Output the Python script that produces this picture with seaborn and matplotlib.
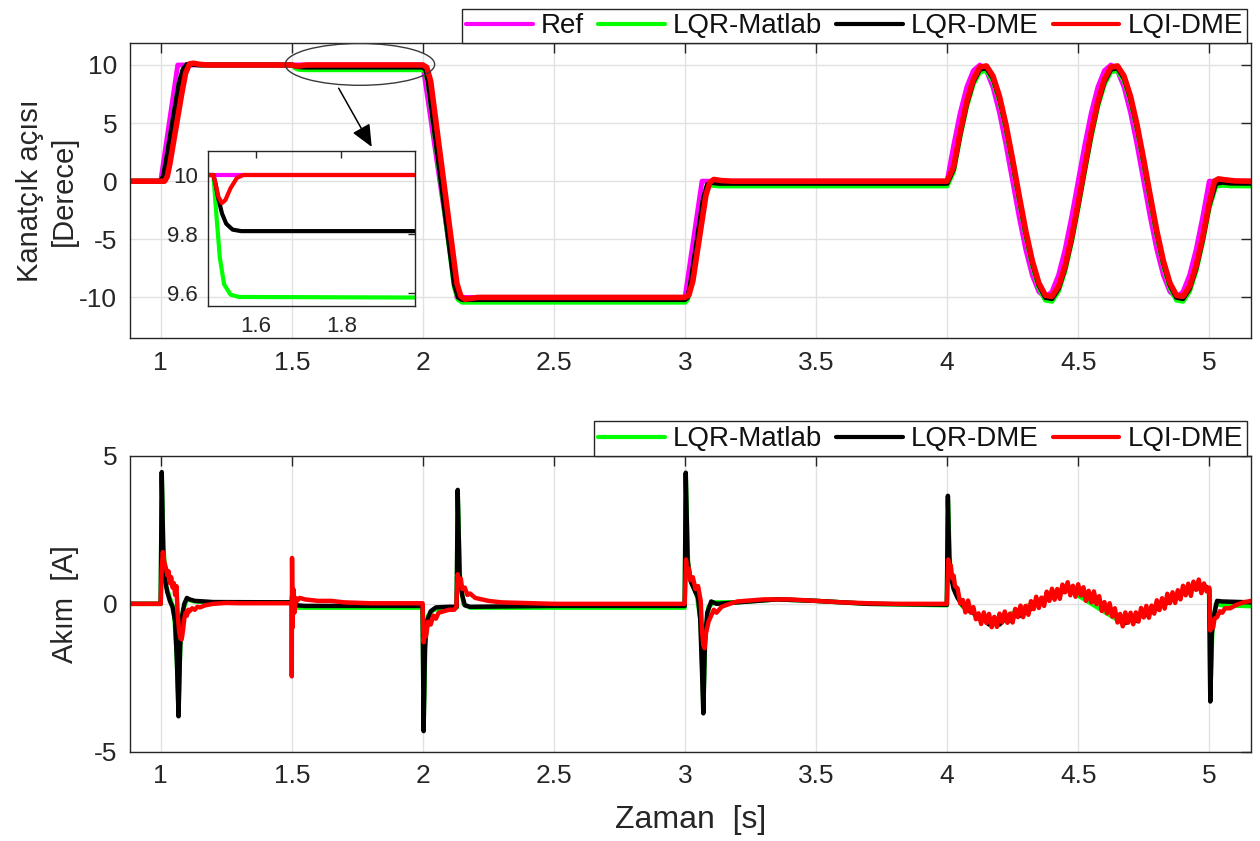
import numpy as np
import matplotlib
matplotlib.use("Agg")
import matplotlib.pyplot as plt
import seaborn as sns
from matplotlib.patches import Ellipse, ArrowStyle

# ---------------- flap angle [deg] ----------------
# reference: ramps, then two periods of a 2 Hz sine
ref_step_t = [0.88, 1.0, 1.065, 2.0, 2.13, 3.0, 3.065]
ref_step_v = [0, 0, 10, 10, -10, -10, 0]
wave_t = list(np.round(np.linspace(4.0, 5.0, 41), 3))
wave_ref = [0, 3.09, 5.88, 8.09, 9.51, 10, 9.51, 8.09, 5.88, 3.09,
            0, -3.09, -5.88, -8.09, -9.51, -10, -9.51, -8.09, -5.88, -3.09,
            0, 3.09, 5.88, 8.09, 9.51, 10, 9.51, 8.09, 5.88, 3.09,
            0, -3.09, -5.88, -8.09, -9.51, -10, -9.51, -8.09, -5.88, -3.09, 0]
ref_tail_t = [5.16]
ref_tail_v = [0]

# LQI-DME response
lqi_step_t = [0.88, 1.015, 1.025, 1.035, 1.08, 1.095, 1.11, 1.125, 1.15, 1.18,
              1.5, 1.505, 1.512, 1.52, 1.528, 1.54, 1.555, 1.57,
              2.0, 2.015, 2.03, 2.13, 2.145, 2.16, 2.18, 2.21,
              3.0, 3.015, 3.03, 3.08, 3.095, 3.11, 3.14, 3.18]
lqi_step_v = [0, 0, 0.4, 1.5, 7.5, 9.3, 10.1, 10.15, 10.05, 10.0,
              10.0, 9.97, 9.925, 9.905, 9.915, 9.955, 9.99, 10.0,
              10.0, 9.8, 8.6, -8.8, -9.9, -10.15, -10.1, -10.0,
              -10.0, -9.8, -8.6, -1.2, -0.1, 0.15, 0.05, 0.0]
lqi_wave = [0, 1.25, 4.26, 6.85, 8.76, 9.82, 9.92, 9.05, 7.29, 4.82,
            1.87, -1.25, -4.26, -6.85, -8.76, -9.82, -9.92, -9.05, -7.29, -4.82,
            -1.87, 1.25, 4.26, 6.85, 8.76, 9.82, 9.92, 9.05, 7.29, 4.82,
            1.87, -1.25, -4.26, -6.85, -8.76, -9.82, -9.92, -9.05, -7.29, -4.82, -1.87]
lqi_tail_t = [5.02, 5.035, 5.06, 5.1, 5.16]
lqi_tail_v = [0.0, 0.2, 0.12, 0.02, 0.0]

# LQR-DME response
dme_step_t = [0.88, 1.0, 1.01, 1.02, 1.07, 1.085, 1.1, 1.12, 1.15,
              1.5, 1.505, 1.51, 1.52, 1.53, 1.545, 1.565, 1.6,
              2.0, 2.01, 2.02, 2.12, 2.135, 2.15, 2.18,
              3.0, 3.01, 3.02, 3.07, 3.085, 3.1, 3.13]
dme_step_v = [0, 0, 0.4, 1.6, 8.4, 9.6, 10.05, 10.05, 10.0,
              10.0, 9.97, 9.93, 9.87, 9.835, 9.815, 9.81, 9.81,
              9.81, 9.6, 8.6, -8.9, -10.0, -10.2, -10.19,
              -10.19, -10.0, -9.0, -1.5, -0.3, -0.12, -0.19]
dme_wave = [-0.19, 1.06, 4.07, 6.66, 8.57, 9.63, 9.73, 8.86, 7.10, 4.63,
            1.68, -1.44, -4.45, -7.04, -8.95, -10.01, -10.11, -9.24, -7.48, -5.01,
            -2.06, 1.06, 4.07, 6.66, 8.57, 9.63, 9.73, 8.86, 7.10, 4.63,
            1.68, -1.44, -4.45, -7.04, -8.95, -10.01, -10.11, -9.24, -7.48, -5.01, -2.06]
dme_tail_t = [5.025, 5.05, 5.08, 5.16]
dme_tail_v = [-0.2, -0.1, -0.17, -0.19]

# LQR-Matlab response
mat_step_t = [0.88, 1.0, 1.01, 1.02, 1.07, 1.085, 1.1, 1.12, 1.15,
              1.5, 1.505, 1.515, 1.525, 1.54, 1.56,
              2.0, 2.01, 2.02, 2.12, 2.135, 2.15, 2.18,
              3.0, 3.01, 3.02, 3.07, 3.085, 3.1, 3.13]
mat_step_v = [0, 0, 0.4, 1.6, 8.4, 9.6, 10.05, 10.05, 10.0,
              10.0, 9.9, 9.72, 9.63, 9.595, 9.587,
              9.585, 9.38, 8.4, -9.1, -10.2, -10.42, -10.415,
              -10.415, -10.2, -9.2, -1.7, -0.52, -0.35, -0.415]
mat_wave = [-0.415, 0.84, 3.85, 6.44, 8.35, 9.41, 9.51, 8.64, 6.88, 4.41,
            1.46, -1.67, -4.68, -7.27, -9.18, -10.24, -10.34, -9.47, -7.71, -5.24,
            -2.29, 0.84, 3.85, 6.44, 8.35, 9.41, 9.51, 8.64, 6.88, 4.41,
            1.46, -1.67, -4.68, -7.27, -9.18, -10.24, -10.34, -9.47, -7.71, -5.24, -2.29]
mat_tail_t = [5.025, 5.05, 5.08, 5.16]
mat_tail_v = [-0.45, -0.35, -0.4, -0.415]

# ---------------- motor current [A] ----------------
cur_mat_t = [0.88, 1.0, 1.004, 1.01, 1.02, 1.035, 1.05, 1.06, 1.068, 1.076, 1.085, 1.1, 1.13, 1.2,
             1.4998, 1.503, 1.52, 1.999, 2.003, 2.01, 2.02, 2.04, 2.1, 2.129, 2.133, 2.142, 2.155,
             2.18, 2.999, 3.003, 3.012, 3.025, 3.045, 3.06, 3.07, 3.078, 3.09, 3.11, 3.2, 3.35,
             3.5, 3.7, 3.999, 4.003, 4.012, 4.03, 4.06, 4.17, 4.45, 4.67, 4.95, 4.999, 5.004,
             5.012, 5.025, 5.05, 5.16]
cur_mat_v = [0, 0, 4.3, 2.0, 0.6, 0.2, -0.2, -1.5, -3.6, -1.0, -0.2, 0.15, 0.08, 0.05,
             0.05, 0.1, -0.13, -0.13, -4.1, -1.2, -0.4, -0.2, -0.13, -0.13, 3.7, 0.8, 0.0,
             -0.13, -0.13, 4.3, 1.3, 0.7, 0.3, -0.6, -3.5, -1.0, -0.1, 0.05, 0.05, 0.15,
             0.1, 0.0, -0.05, 3.5, 1.1, 0.4, -0.1, -0.65, 0.55, -0.65, 0.6, 0.5, -3.2,
             -0.8, 0.0, -0.05, -0.08]

cur_dme_t = [0.88, 1.0, 1.004, 1.01, 1.015, 1.025, 1.035, 1.045, 1.055, 1.062, 1.068, 1.074,
             1.08, 1.09, 1.1, 1.11, 1.13, 1.2, 1.4998, 1.501, 1.505, 1.52, 1.55, 1.999,
             2.003, 2.008, 2.015, 2.03, 2.05, 2.1, 2.129, 2.133, 2.14, 2.15, 2.16, 2.18, 2.5,
             2.999, 3.003, 3.01, 3.02, 3.035, 3.05, 3.058, 3.064, 3.07, 3.076, 3.085, 3.1,
             3.12, 3.2, 3.35, 3.5, 3.7, 3.999, 4.003, 4.008, 4.015, 4.025, 4.04,
             4.06, 4.08, 4.10, 4.12, 4.14, 4.16, 4.18, 4.20, 4.22, 4.24, 4.26, 4.28, 4.30,
             4.32, 4.34, 4.36, 4.38, 4.40, 4.42, 4.44, 4.46, 4.48, 4.50, 4.52, 4.54, 4.56,
             4.58, 4.60, 4.62, 4.64, 4.66, 4.68, 4.70, 4.72, 4.74, 4.76, 4.78, 4.80, 4.82,
             4.84, 4.86, 4.88, 4.90, 4.92, 4.94, 4.96, 4.98, 5.0, 5.004, 5.01, 5.02, 5.03,
             5.05, 5.16]
cur_dme_v = [0, 0, 4.45, 1.6, 0.9, 0.4, 0.1, -0.1, -0.6, -2.0, -3.8, -1.5,
             -0.5, 0.0, 0.2, 0.15, 0.1, 0.06, 0.05, 0.25, -0.05, -0.05, -0.07, -0.07,
             -4.3, -1.5, -0.6, -0.25, -0.12, -0.1, -0.1, 3.85, 1.0, 0.3, -0.05, -0.1, -0.07,
             -0.07, 4.43, 1.5, 0.8, 0.5, 0.2, -0.5, -2.0, -3.7, -1.3, -0.3, 0.08,
             0.0, 0.05, 0.15, 0.1, 0.0, -0.03, 3.65, 1.6, 0.9, 0.5, 0.2,
             -0.05, -0.22, -0.30, -0.50, -0.52, -0.70, -0.62, -0.70, -0.52, -0.58, -0.38, -0.40, -0.22,
             -0.18, 0.02, 0.02, 0.22, 0.22, 0.40, 0.40, 0.58, 0.45, 0.52, 0.30, 0.30, 0.10,
             0.06, -0.12, -0.20, -0.38, -0.48, -0.65, -0.50, -0.58, -0.36, -0.38, -0.18, -0.18, 0.0,
             0.03, 0.20, 0.22, 0.38, 0.40, 0.60, 0.52, 0.62, 0.5, -3.3, -1.0, -0.3, 0.1,
             0.08, 0.05]

cur_lqi_t = [0.88, 1.0, 1.004, 1.008, 1.014, 1.02, 1.026, 1.03, 1.035, 1.04, 1.045, 1.05,
             1.055, 1.06, 1.065, 1.07, 1.075, 1.08, 1.085, 1.09, 1.095, 1.10, 1.105, 1.11,
             1.12, 1.13, 1.14, 1.15, 1.17, 1.2, 1.25, 1.3, 1.4995,
             1.5, 1.501, 1.503, 1.506, 1.51, 1.515, 1.52, 1.53, 1.55, 1.6, 1.65, 1.7, 1.8, 1.999,
             2.003, 2.008, 2.012, 2.02, 2.03, 2.04, 2.05, 2.06, 2.08, 2.1, 2.12, 2.128, 2.133,
             2.138, 2.145, 2.15, 2.16, 2.17, 2.18, 2.2, 2.25, 2.3, 2.5, 2.999,
             3.004, 3.008, 3.015, 3.02, 3.03, 3.04, 3.05, 3.06, 3.065, 3.07, 3.075, 3.08, 3.09,
             3.1, 3.11, 3.12, 3.14, 3.17, 3.2, 3.3, 3.4, 3.5, 3.6, 3.7, 3.8, 3.999,
             4.004, 4.008, 4.014, 4.02, 4.025, 4.03]
cur_lqi_v = [0, 0, 1.2, 1.75, 1.4, 1.2, 0.95, 1.1, 0.7, 0.9, 0.55, 0.7,
             0.3, 0.6, -0.4, -0.9, -1.15, -1.2, -0.9, -0.5, -0.3, -0.4, -0.2, -0.25,
             -0.15, -0.2, -0.1, -0.12, -0.05, 0.0, 0.03, 0.02, 0.02,
             -2.45, 1.55, -0.8, 0.5, -0.3, 0.2, 0.1, 0.2, 0.15, 0.1, 0.1, 0.05, 0.02, 0.02,
             -1.3, -0.9, -1.1, -0.6, -0.7, -0.4, -0.5, -0.3, -0.25, -0.2, -0.2, -0.1, 1.0,
             0.7, 0.85, 0.5, 0.55, 0.3, 0.35, 0.2, 0.1, 0.05, 0.0, 0.0,
             1.5, 1.1, 1.2, 0.8, 0.9, 0.5, 0.6, 0.1, -0.9, -1.4, -1.5, -1.0, -0.6,
             -0.4, -0.2, -0.3, -0.1, 0.0, 0.08, 0.15, 0.15, 0.1, 0.05, 0.02, 0.0, 0.0,
             1.5, 1.2, 1.3, 0.85, 0.95, 0.6]
# noisy segment during the sine tracking, sampled every 10 ms
cur_lqi_noisy_t = list(np.round(np.linspace(4.04, 4.99, 96), 2))
cur_lqi_noisy_v = [0.52, 0.01, 0.13, -0.29, 0.11, -0.30, -0.11, -0.52, -0.32, -0.68,
                   -0.29, -0.65, -0.34, -0.79, -0.44, -0.78, -0.33, -0.63, -0.26, -0.64,
                   -0.33, -0.63, -0.17, -0.45, -0.06, -0.45, -0.07, -0.37, 0.09, -0.18,
                   0.24, -0.14, 0.21, -0.07, 0.41, 0.10, 0.51, 0.14, 0.50, 0.17,
                   0.65, 0.39, 0.73, 0.29, 0.61, 0.24, 0.66, 0.28, 0.56, 0.10,
                   0.44, 0.05, 0.42, -0.01, 0.26, -0.24, 0.06, -0.32, 0.02, -0.43,
                   -0.15, -0.63, -0.34, -0.76, -0.29, -0.64, -0.30, -0.69, -0.29, -0.60,
                   -0.14, -0.46, -0.07, -0.47, -0.06, -0.33, 0.12, -0.21, 0.19, -0.16,
                   0.34, 0.02, 0.39, 0.03, 0.46, 0.15, 0.61, 0.29, 0.68, 0.27,
                   0.75, 0.47, 0.82, 0.36, 0.69, 0.42]
cur_lqi_tail_t = [5.0, 5.004, 5.01, 5.015, 5.02, 5.03, 5.04, 5.05, 5.06, 5.08, 5.1, 5.13, 5.16]
cur_lqi_tail_v = [0.55, -0.9, -0.7, -0.8, -0.5, -0.45, -0.25, -0.3, -0.15, -0.15, -0.05, 0.05, 0.1]

x_ticks = [1, 1.5, 2, 2.5, 3, 3.5, 4, 4.5, 5]
x_tick_labels = ["1", "1.5", "2", "2.5", "3", "3.5", "4", "4.5", "5"]
ang_ticks = [-10, -5, 0, 5, 10]
ang_tick_labels = ["-10", "-5", "0", "5", "10"]
cur_ticks = [-5, 0, 5]
cur_tick_labels = ["-5", "0", "5"]
zoom_xticks = [1.6, 1.8]
zoom_xtick_labels = ["1.6", "1.8"]
zoom_yticks = [9.6, 9.8, 10]
zoom_ytick_labels = ["9.6", "9.8", "10"]

names = ["Ref", "LQR-Matlab", "LQR-DME", "LQI-DME"]
colors = {"Ref": "#ff00ff", "LQR-Matlab": "#00ff00", "LQR-DME": "#000000", "LQI-DME": "#ff0000"}

sns.set_theme(style="white")
plt.rcParams["font.family"] = ["Liberation Sans", "DejaVu Sans"]
plt.rcParams["axes.unicode_minus"] = False

INK = "#262626"

angle_series = {
    "Ref": (ref_step_t + wave_t + ref_tail_t, ref_step_v + wave_ref + ref_tail_v),
    "LQR-Matlab": (mat_step_t + wave_t + mat_tail_t, mat_step_v + mat_wave + mat_tail_v),
    "LQR-DME": (dme_step_t + wave_t + dme_tail_t, dme_step_v + dme_wave + dme_tail_v),
    "LQI-DME": (lqi_step_t + wave_t + lqi_tail_t, lqi_step_v + lqi_wave + lqi_tail_v),
}
current_series = {
    "LQR-Matlab": (cur_mat_t, cur_mat_v),
    "LQR-DME": (cur_dme_t, cur_dme_v),
    "LQI-DME": (cur_lqi_t + cur_lqi_noisy_t + cur_lqi_tail_t,
                cur_lqi_v + cur_lqi_noisy_v + cur_lqi_tail_v),
}


def frame(ax, labelsize=19, pad=9, grid=True):
    for s in ax.spines.values():
        s.set_visible(True)
        s.set_color(INK)
        s.set_linewidth(1.0)
    ax.tick_params(direction="in", length=7, width=1.0, top=True, right=True,
                   labelsize=labelsize, colors=INK, pad=pad)
    if grid:
        ax.grid(True, color="#e1e1e1", linewidth=1.0)
        ax.set_axisbelow(True)
    else:
        ax.grid(False)


fig = plt.figure(figsize=(12.6, 8.41), dpi=100)
ax1 = fig.add_axes([0.103, 0.598, 0.890, 0.351])
ax2 = fig.add_axes([0.103, 0.106, 0.890, 0.352])
axin = fig.add_axes([0.165, 0.636, 0.164, 0.184])
axin.set_facecolor("none")

widths_top = {"Ref": 3.5, "LQR-Matlab": 3.5, "LQR-DME": 3.5, "LQI-DME": 4.0}
for name in names:
    t, v = angle_series[name]
    sns.lineplot(x=t, y=v, ax=ax1, color=colors[name], linewidth=widths_top[name],
                 estimator=None, sort=False, label=name)
    sns.lineplot(x=t, y=v, ax=axin, color=colors[name], linewidth=3.0,
                 estimator=None, sort=False, legend=False)

for name in names[1:]:
    t, v = current_series[name]
    sns.lineplot(x=t, y=v, ax=ax2, color=colors[name], linewidth=3.2,
                 estimator=None, sort=False, label=name)

# upper panel
ax1.set_xlim(0.882, 5.16)
ax1.set_ylim(-13.5, 11.9)
ax1.set_xticks(x_ticks)
ax1.set_xticklabels(x_tick_labels)
ax1.set_yticks(ang_ticks)
ax1.set_yticklabels(ang_tick_labels)
frame(ax1)
ax1.set_xlabel("")
ax1.set_ylabel("Kanatçık açısı\n[Derece]", fontsize=21, color=INK, linespacing=1.3)
ax1.yaxis.set_label_coords(-0.046, 0.5)

# lower panel
ax2.set_xlim(0.882, 5.16)
ax2.set_ylim(-5, 5)
ax2.set_xticks(x_ticks)
ax2.set_xticklabels(x_tick_labels)
ax2.set_yticks(cur_ticks)
ax2.set_yticklabels(cur_tick_labels)
frame(ax2)
ax2.set_ylabel("Akım  [A]", fontsize=21, color=INK)
ax2.yaxis.set_label_coords(-0.045, 0.5)
ax2.set_xlabel("Zaman  [s]", fontsize=23, color=INK)
ax2.xaxis.set_label_coords(0.5, -0.18)

# zoomed view of the load disturbance
axin.set_xlim(1.487, 1.972)
axin.set_ylim(9.556, 10.08)
axin.set_xticks(zoom_xticks)
axin.set_xticklabels(zoom_xtick_labels)
axin.set_yticks(zoom_yticks)
axin.set_yticklabels(zoom_ytick_labels)
frame(axin, labelsize=16, pad=7, grid=False)
axin.tick_params(length=5)
axin.set_xlabel("")
axin.set_ylabel("")

ax1.add_patch(Ellipse((1.76, 10.05), width=0.57, height=3.6, fill=False,
                      edgecolor="#3a3a3a", linewidth=1.0, zorder=6))
ax1.annotate("", xy=(1.805, 2.95), xytext=(1.679, 8.0),
             arrowprops=dict(arrowstyle=ArrowStyle("-|>", head_length=0.9, head_width=0.4),
                             color="black", lw=1.1, mutation_scale=15, shrinkA=0, shrinkB=0),
             zorder=6)

leg_kw = dict(loc="lower right", borderaxespad=0, frameon=True, fancybox=False,
              framealpha=1, edgecolor=INK, fontsize=20, borderpad=0.15,
              handlelength=2.4, handletextpad=0.3, columnspacing=0.5, handleheight=0.5)
h1, l1 = ax1.get_legend_handles_labels()
lg1 = ax1.legend(h1, l1, ncol=4, bbox_to_anchor=(0.9965, 1.0), **leg_kw)
h2, l2 = ax2.get_legend_handles_labels()
lg2 = ax2.legend(h2, l2, ncol=3, bbox_to_anchor=(0.9965, 1.0), **leg_kw)
for lg in (lg1, lg2):
    lg.get_frame().set_linewidth(1.0)
    for line in lg.get_lines():
        line.set_linewidth(3.0)
    for txt in lg.get_texts():
        txt.set_color("#111111")

fig.savefig("out.png", dpi=100, facecolor="white")
